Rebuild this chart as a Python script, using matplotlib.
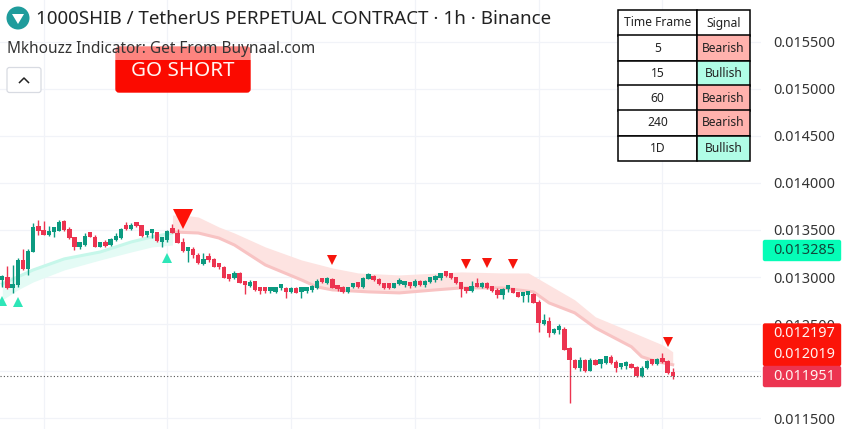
import matplotlib
matplotlib.use("Agg")
import matplotlib.pyplot as plt
import numpy as np
from matplotlib.patches import FancyBboxPatch, Rectangle, Circle, Polygon

# Prices in millionths of USDT
opens = [12970,12998,12885,12914,13182,13090,13270,13528,13500,13447,13482,13493,13595,13511,13422,13323,13341,13454,13429,13323,
         13359,13341,13394,13412,13528,13507,13557,13553,13443,13465,13475,13376,13394,13493,13472,13376,13274,13295,13235,13140,
         13200,13189,13118,13104,12995,12995,13048,12945,12906,12959,12868,12868,12854,12846,12885,12889,12839,12889,12846,12854,
         12864,12882,12963,12942,12977,12899,12875,12839,12892,12917,12892,12984,13012,12977,12924,12906,12889,12928,12917,12921,
         12910,12963,12913,12952,12970,12995,13030,13016,12998,12949,12882,12857,12913,12896,12938,12889,12864,12811,12871,12882,
         12843,12800,12811,12822,12740,12504,12535,12405,12440,12451,12246,12115,12034,12115,12005,12115,12080,12087,12150,12094,
         12044,12051,12069,12044,11945,12030,12108,12080,12122,12104,11981]
closes = [12998,12885,12914,13182,13090,13277,13528,13493,13447,13493,13500,13588,13500,13412,13323,13348,13440,13429,13323,13352,
          13330,13401,13429,13507,13507,13550,13542,13436,13472,13479,13387,13408,13493,13472,13366,13277,13295,13235,13147,13189,
          13182,13111,13104,12995,12984,13041,12942,12914,12945,12864,12854,12854,12864,12892,12899,12839,12889,12836,12864,12868,
          12889,12963,12949,12981,12889,12871,12846,12892,12917,12899,12988,13012,12970,12924,12889,12889,12917,12970,12928,12906,
          12963,12917,12959,12984,13005,13030,13016,12995,12935,12875,12853,12906,12896,12938,12882,12857,12811,12878,12882,12836,
          12793,12811,12822,12730,12511,12535,12405,12451,12454,12228,12115,12034,12115,11998,12122,12069,12094,12157,12087,12034,
          12058,12069,12037,11945,12037,12108,12080,12122,12094,11981,11951]
highs = [13023,13118,13129,13200,13295,13295,13571,13606,13599,13542,13518,13606,13606,13528,13429,13376,13465,13472,13447,13376,
         13394,13412,13465,13518,13581,13578,13588,13553,13493,13500,13482,13429,13500,13564,13507,13412,13306,13316,13253,13253,
         13253,13200,13129,13118,13023,13069,13058,12963,12970,12963,12892,12892,12882,12899,12917,12892,12899,12899,12871,12892,
         12917,12977,12977,12998,12988,12917,12906,12899,12928,12952,13005,13041,13023,12988,12935,12928,12928,12988,12942,12935,
         12977,12970,12970,12998,13023,13041,13048,13041,13005,12952,12899,12963,12988,12952,12945,12899,12882,12889,12889,12889,
         12846,12822,12836,12829,12758,12610,12574,12458,12504,12468,12256,12129,12150,12129,12136,12129,12122,12164,12175,12115,
         12087,12104,12087,12058,12051,12115,12122,12140,12193,12122,12034]
lows = [12892,12878,12829,12899,13076,13023,13270,13447,13447,13436,13429,13493,13493,13401,13288,13295,13330,13422,13316,13316,
        13316,13330,13387,13401,13500,13500,13535,13429,13429,13412,13376,13316,13376,13465,13359,13270,13164,13200,13140,13129,
        13164,13104,13083,12988,12963,12977,12935,12818,12892,12857,12818,12829,12836,12829,12864,12776,12829,12829,12776,12836,
        12846,12871,12935,12928,12882,12854,12836,12836,12882,12882,12882,12977,12963,12917,12878,12871,12882,12917,12899,12889,
        12899,12910,12899,12942,12952,12970,12998,12981,12928,12786,12829,12846,12892,12889,12871,12846,12783,12769,12846,12829,
        12786,12740,12740,12723,12412,12493,12369,12398,12398,12221,11663,12027,11998,11988,11998,12062,12034,12076,12080,11991,
        12023,12023,12030,11938,11938,12027,12069,12069,12087,11974,11921]

# Trend ribbons, sampled at candle indices
bull_idx = [0, 3, 6, 12, 19, 25, 29, 33]
bull_upper = [12928,13002,13076,13193,13267,13373,13426,13468]
bull_lower = [12758,12864,12949,13076,13182,13267,13320,13341]
bear_idx_up = [33,35,38,42,45,51,58,64,69,77,89,97,102,106,111,115,122,128,130]
bear_upper = [13659,13659,13638,13532,13468,13320,13182,13097,13044,13023,13055,13044,13044,12917,12758,12578,12419,12281,12207]
bear_idx_lo = [33,38,42,45,51,58,61,64,71,77,84,89,97,103,106,111,115,122,124,127,130]
bear_lower = [13479,13468,13415,13341,13129,12970,12896,12864,12843,12832,12864,12885,12885,12843,12726,12620,12461,12260,12154,12101,12069]

# Signals
long_idx = [0, 3, 32]
long_px = [12746, 12736, 13203]
short_idx = [64, 90, 94, 99, 129]
short_px = [13182, 13139, 13150, 13139, 12311]
big_short_idx = [35]
big_short_px = [13617]

yticks = [0.0115,0.0120,0.0125,0.0130,0.0135,0.0140,0.0145,0.0150,0.0155]
hidden_tick = 0.0120   # sits behind the price tags
grid_idx = [8,32,56,80,104,128]
title = "1000SHIB / TetherUS PERPETUAL CONTRACT · 1h · Binance"
subtitle = "Mkhouzz Indicator: Get From Buynaal.com"
table_rows = [["Time Frame","Signal"],["5","Bearish"],["15","Bullish"],["60","Bearish"],["240","Bearish"],["1D","Bullish"]]
last_price = 0.011951
tags = ["0.013285","0.012197","0.012019","0.011951"]

GREEN="#0c9a80"; RED="#ec3450"; FONT="Noto Sans"
plt.rcParams['font.family']=[FONT,'DejaVu Sans']
U=1e-6
fig=plt.figure(figsize=(8.51,4.29),dpi=100,facecolor="white")
W,H=851,429
ax=fig.add_axes([0,0,761/W,1])
ax.set_xlim(-0.446,147.12)
ax.set_ylim(0.011387,0.015942)
for s in ax.spines.values(): s.set_visible(False)
ax.yaxis.tick_right()
ax.set_yticks(yticks)
ax.set_yticklabels(["" if v==hidden_tick else f"{v:.6f}" for v in yticks],fontsize=10.4,color="#333333")
ax.tick_params(axis='y',length=0,pad=8.8,labelright=True)
ax.set_xticks(grid_idx); ax.set_xticklabels([]); ax.tick_params(axis='x',length=0)
ax.grid(True,color="#f1f3f8",lw=0.9); ax.set_axisbelow(True)

ax.fill_between(bull_idx,[v*U for v in bull_upper],[v*U for v in bull_lower],color="#e4fbf5",lw=0,zorder=1)
ax.plot(bull_idx,[v*U for v in bull_upper],color="#c6f7ea",lw=2.2,zorder=1.5)
bx=sorted(set(bear_idx_up+bear_idx_lo))
ax.fill_between(bx,np.interp(bx,bear_idx_up,bear_upper)*U,np.interp(bx,bear_idx_lo,bear_lower)*U,color="#fde3e1",lw=0,zorder=1)
ax.plot(bear_idx_lo,[v*U for v in bear_lower],color="#f8c3c3",lw=2.2,zorder=1.5)

idx=range(len(opens))
for i,o,c,h,l in zip(idx,opens,closes,highs,lows):
    col=GREEN if c>=o else RED
    ax.vlines(i,l*U,h*U,color=col,lw=1.0,zorder=2)
    ax.bar(i,max(abs(c-o),45)*U,bottom=min(o,c)*U,width=0.84,color=col,lw=0,zorder=3)

ax.axhline(last_price,color="#555555",lw=0.8,ls=(0,(1,2)),zorder=2)
ax.plot(long_idx,[v*U for v in long_px],'^',color="#2ee6b8",ms=7.6,mew=0,zorder=4,clip_on=False)
ax.plot(short_idx,[v*U for v in short_px],'v',color="#f6150c",ms=7.6,mew=0,zorder=4)
ax.plot(big_short_idx,[v*U for v in big_short_px],'v',color="#ff1208",ms=15,mew=0,zorder=4)

# overlay in pixel space
ov=fig.add_axes([0,0,1,1],zorder=5)
ov.set_xlim(0,W); ov.set_ylim(H,0); ov.axis("off"); ov.patch.set_alpha(0)

ov.add_patch(FancyBboxPatch((116,47),134,45,boxstyle="round,pad=0,rounding_size=3",fc="#fb0a00",ec="#fb0a00",lw=1))
ov.add_patch(Rectangle((114,45),138,15,fc="white",alpha=0.5,lw=0))
ov.text(183,70.5,"GO SHORT",color="#fff4f0",fontsize=14.8,ha="center",va="center")

ov.add_patch(Circle((18,18),11.5,fc="#1f9c9c",lw=0))
ov.add_patch(Polygon([[12,14],[24,14],[18,24]],fc="white",lw=0))
ov.text(36,19.5,title,fontsize=13.5,color="#222222",va="center",ha="left")
ov.text(7,49,subtitle,fontsize=11.1,color="#333333",va="center",ha="left")
ov.add_patch(FancyBboxPatch((7,67.5),34,25,boxstyle="round,pad=0,rounding_size=2.5",fc="white",ec="#d8dbe2",lw=0.9))
ov.plot([19.5,24,28.5],[82.5,78,82.5],color="#222222",lw=1.1)

# table
tb=ov.table(cellText=table_rows,bbox=[618/W,1-160.5/H,132/W,150/H],cellLoc="center",colWidths=[79/132,53/132])
tb.auto_set_font_size(False)
for (r,c),cell in tb.get_celld().items():
    cell.set_edgecolor("black"); cell.set_linewidth(1.1)
    t=table_rows[r][c]
    cell.set_facecolor("#ffb2ad" if t=="Bearish" else "#b0fde6" if t=="Bullish" else "white")
    cell.get_text().set_fontsize(8.7); cell.get_text().set_color("#222222")

def tag(y0,y1,col):
    ov.add_patch(FancyBboxPatch((763.5,y0+.5),77,y1-y0-1,boxstyle="round,pad=0,rounding_size=1.5",fc=col,ec=col,lw=1))
tag(240,261,"#05fdb7"); tag(323.5,366,"#fb1409"); tag(366,387,"#ec3450")
ov.text(804,250.5,tags[0],fontsize=10.4,color="#11473b",ha="center",va="center")
ov.text(804,333.5,tags[1],fontsize=10.4,color="#fff3f0",fontweight="bold",ha="center",va="center")
ov.text(804,354.5,tags[2],fontsize=10.4,color="#fff3f0",fontweight="bold",ha="center",va="center")
ov.text(804,376.5,tags[3],fontsize=10.4,color="#fff3f0",fontweight="bold",ha="center",va="center")

fig.savefig("out.png",dpi=100,facecolor="white")
